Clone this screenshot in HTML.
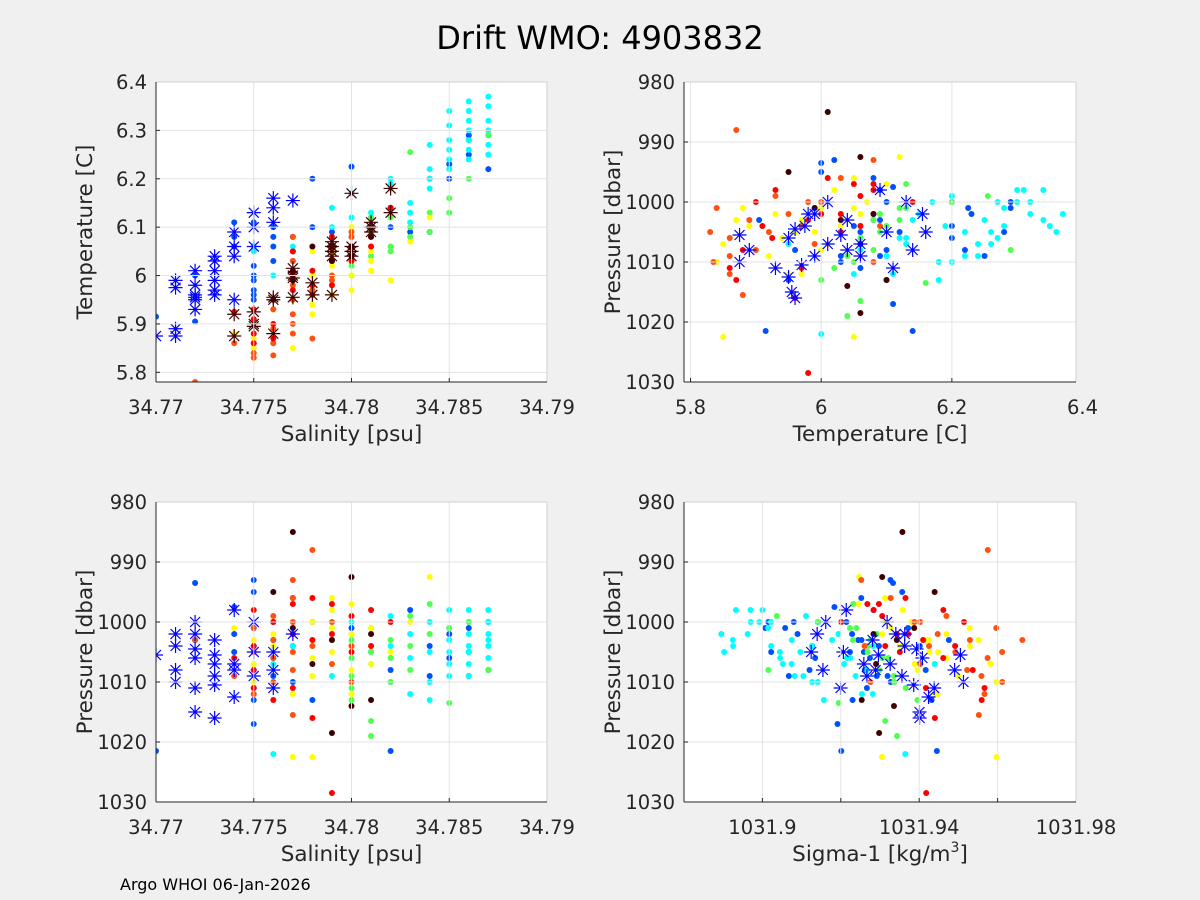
<!DOCTYPE html>
<html><head><meta charset="utf-8"><style>
body{margin:0;background:#f0f0f0;}
svg{display:block;font-family:"DejaVu Sans","Liberation Sans",sans-serif;}
</style></head><body>
<svg id="fig" width="1200" height="900" viewBox="0 0 1200 900">
<rect width="1200" height="900" fill="#f0f0f0"/>
<text x="600" y="49" font-size="32" text-anchor="middle" fill="#000">Drift WMO: 4903832</text>
<text x="120" y="890" font-size="16" fill="#000">Argo WHOI 06-Jan-2026</text>
</svg>
<script>
// Data: salinity offset (thousandths above 34.770), temperature [C], pressure [dbar]
const blueStarSal=[0,1,1,1,1,2,2,2,2,2,2,3,3,3,3,3,3,4,4,4,4,5,5,5,6,6,6,7];
const blueStarTemp=[5.875,5.99,5.975,5.89,5.875,6.01,5.98,5.96,5.95,5.93,5.955,6.04,6.03,6.01,5.99,5.97,5.96,6.09,6.06,6.04,5.95,6.13,6.10,6.06,6.16,6.14,6.11,6.155];
const blueStarPres=[1005.5,1002,1004,1008,1010,1000,1002,1004.5,1006,1011,1015,1003,1005.5,1007,1009,1010.5,1016,998,1007,1008,1012.5,1000,1005,1009,1005,1008,1011,1002];
const darkStarSal=[4,4,5,5,5,6,6,6,7,7,7,7,8,8,9,9,9,9,9,10,10,10,10,11,11,11,12,12];
const darkStarTemp=[5.92,5.875,5.925,5.90,5.895,5.955,5.95,5.88,6.015,6.0,5.995,5.955,5.985,5.96,6.07,6.06,6.05,6.04,5.96,6.17,6.06,6.05,6.04,6.11,6.10,6.09,6.18,6.13];
const groupColors=["#0050ff","#00ffff","#50ff50","#ffff00","#ff5010","#ff0000","#400000"];
const salBlue=[0,2,2,4,4,4,5,5,5,5,5,5,5,5,6,6,6,6,7,7,7,8,8,9,10,11,12,12,13,14,14,15,15,16,16,16,17,17];
const tempBlue=[5.915,6.0,5.905,6.11,6.08,6.06,6.02,6.0,5.99,5.97,5.96,5.95,6.11,6.06,6.10,6.08,6.06,6.03,6.08,6.05,6.03,6.20,6.10,6.09,6.225,6.12,6.14,6.10,6.09,6.20,6.09,6.23,6.20,6.29,6.28,6.25,6.29,6.22];
const presBlue=[1021.5,993.5,1003,997.5,1002,1005,993,995,1001,1004,1008,1013,1017,1011,1000,1003,1006,1009,996,1004,1010,1000,1013,1003,1001,1005,1021.5,1008,998,1004,1009,1002,1006,1001,1005,1009,1000,1008];
const salCyan=[5,5,6,6,7,9,9,10,10,11,12,12,12,13,13,13,14,14,14,14,15,15,15,15,15,15,16,16,16,16,16,16,16,17,17,17,17,17,17];
const tempCyan=[6.06,6.05,6.00,5.95,6.06,6.14,6.10,6.17,6.12,6.13,6.20,6.19,6.18,6.15,6.13,6.11,6.27,6.22,6.2,6.18,6.34,6.31,6.28,6.26,6.24,6.22,6.36,6.34,6.32,6.30,6.28,6.26,6.24,6.37,6.35,6.32,6.30,6.27,6.25];
const presCyan=[1008,1012,1022,1007,1004,1003,1009,1000,1006,1007,999,1004,1010,1002,1006,1012,1000,1005,1010,1013,1003,998,1001,1005,1007,1009,1005,998,1002,1000,1004,1007,1009,1002,1004,1000,998,1006,1003];
const salGreen=[10,10,10,10,10,11,11,11,11,12,12,12,13,13,13,14,14,15,15,16,17];
const tempGreen=[6.08,6.06,6.04,6.02,6.00,6.12,6.09,6.06,6.04,6.12,6.06,6.05,6.255,6.10,6.08,6.13,6.09,6.16,6.13,6.20,6.29];
const presGreen=[1003,1006,1009,1011,1013,1001,1005,1016.5,1019,1003,1006,1010,999,1004,1008,997,1002,1013.5,1001,1000,1008];
const salYellow=[4,5,5,5,6,6,7,7,8,8,8,8,8,9,9,9,9,9,10,10,10,10,10,11,11,11,12,13,14];
const tempYellow=[5.88,5.87,5.85,5.84,5.93,5.89,5.85,5.95,6.05,6.0,5.97,5.94,5.92,6.05,6.02,6.0,5.98,5.96,6.1,6.06,6.03,6.0,5.97,6.05,6.03,6.01,5.99,6.07,6.12];
const presYellow=[1001,1003,1007,1010,1002,1004,1022.5,1012,1022.5,1000,1003,1006,1009,996,998,1001,1003,1005,997,1002,1004,1008,1012,1001,1004,1007,1005,1000,992.5];
const salOrange=[2,4,5,5,5,6,6,6,6,7,7,7,7,7,7,7,8,8,9,9,10,10];
const tempOrange=[5.78,5.86,5.86,5.84,5.83,5.93,5.89,5.86,5.835,6.08,6.03,5.98,5.95,5.92,5.90,5.88,5.87,5.97,6.0,5.99,6.09,6.08];
const presOrange=[1003,1009,1012,1001,1005,999,1003,1006,1010,993,996,1000,1002,1005,1008,1015.5,988,1004,1000,1007,1004,1010];
const salRed=[4,5,5,5,5,6,6,7,7,7,8,8,8,9,9,9,10,10,11,11,12];
const tempRed=[5.925,5.93,5.91,5.88,5.86,5.9,5.87,6.05,6.0,5.97,6.01,5.98,5.96,6.08,6.03,5.98,6.06,6.03,6.08,6.06,6.14];
const presRed=[1006,998,1004,1008,1011,1000,1013,997,1002,1011,996,1003,1016,997,1002,1028.5,999,1005,998,1004,1000];
const salDark=[6,7,7,8,9,9,10,10,11,11];
const tempDark=[5.95,6.01,5.99,6.06,6.06,6.03,6.06,6.04,6.1,6.08];
const presDark=[995,985,1001,1007,1018.5,1003,992.5,1014,1013,1002];
const salTicks=[34.77,34.775,34.78,34.785,34.79];
const salTickLabels=["34.77","34.775","34.78","34.785","34.79"];
const tempTicks=[5.8,5.9,6,6.1,6.2,6.3,6.4];
const tempTickLabels=["5.8","5.9","6","6.1","6.2","6.3","6.4"];
const tempXTicks=[5.8,6,6.2,6.4];
const tempXTickLabels=["5.8","6","6.2","6.4"];
const presTicks=[980,990,1000,1010,1020,1030];
const presTickLabels=["980","990","1000","1010","1020","1030"];
const sigGrid=[1031.88,1031.9,1031.92,1031.94,1031.96,1031.98];
const sigTicks=[1031.9,1031.94,1031.98];
const sigTickLabels=["1031.9","1031.94","1031.98"];

const NS="http://www.w3.org/2000/svg";
const svg=document.getElementById("fig");
function mk(tag,attrs,parent){const e=document.createElementNS(NS,tag);for(const k in attrs)e.setAttribute(k,attrs[k]);(parent||svg).appendChild(e);return e;}
function sigma1(s,t){return 1031.938+0.78*(s-34.778)-0.15*(t-6.0);}

const groups=[
 [salBlue,tempBlue,presBlue],[salCyan,tempCyan,presCyan],[salGreen,tempGreen,presGreen],
 [salYellow,tempYellow,presYellow],[salOrange,tempOrange,presOrange],[salRed,tempRed,presRed],[salDark,tempDark,presDark]];

function panel(name,x0,y0,w,h,xmin,xmax,ymin,ymax,yrev){
  const g=mk("g",{});
  
  
  mk("rect",{x:x0,y:y0,width:w,height:h,fill:"#fff"},g);
  const sx=v=>x0+(v-xmin)/(xmax-xmin)*w;
  const sy=yrev?(v=>y0+(v-ymin)/(ymax-ymin)*h):(v=>y0+h-(v-ymin)/(ymax-ymin)*h);
  const clipId="clip-"+name;
  const cp=mk("clipPath",{id:clipId},g);mk("rect",{x:x0,y:y0,width:w,height:h},cp);
  const marks=mk("g",{"clip-path":"url(#"+clipId+")"},g);
  return {g,sx,sy,x0,y0,w,h,marks};
}
function gridX(p,vals){vals.forEach(v=>{const x=p.sx(v);if(x<p.x0-0.5||x>p.x0+p.w+0.5)return;
  mk("line",{x1:x,x2:x,y1:p.y0,y2:p.y0+p.h,stroke:"#e3e3e3","stroke-width":1},p.g);
  mk("line",{x1:x,x2:x,y1:p.y0+p.h,y2:p.y0+p.h-4,stroke:"#262626","stroke-width":1},p.g);});}
function gridY(p,vals){vals.forEach(v=>{const y=p.sy(v);if(y<p.y0-0.5||y>p.y0+p.h+0.5)return;
  mk("line",{x1:p.x0,x2:p.x0+p.w,y1:y,y2:y,stroke:"#e3e3e3","stroke-width":1},p.g);
  mk("line",{x1:p.x0,x2:p.x0+4,y1:y,y2:y,stroke:"#262626","stroke-width":1},p.g);});}
function labelsX(p,vals,labs){vals.forEach((v,i)=>{const t=mk("text",{x:p.sx(v),y:p.y0+p.h+32,"font-size":19.5,"text-anchor":"middle",fill:"#262626"},p.g);t.textContent=labs[i];
  
  });}
function labelsY(p,vals,labs){vals.forEach((v,i)=>{const t=mk("text",{x:p.x0-9,y:p.sy(v)+7,"font-size":19.5,"text-anchor":"end",fill:"#262626"},p.g);t.textContent=labs[i];
  
  });}
function frame(p){
  mk("line",{x1:p.x0,x2:p.x0+p.w,y1:p.y0,y2:p.y0,stroke:"#cfcfcf"},p.g);
  mk("line",{x1:p.x0+p.w,x2:p.x0+p.w,y1:p.y0,y2:p.y0+p.h,stroke:"#cfcfcf"},p.g);
  mk("line",{x1:p.x0,x2:p.x0+p.w,y1:p.y0+p.h,y2:p.y0+p.h,stroke:"#262626"},p.g);
  mk("line",{x1:p.x0,x2:p.x0,y1:p.y0,y2:p.y0+p.h,stroke:"#262626"},p.g);}
function axisTitles(p,xt,yt,xsup){
  const t=mk("text",{x:p.x0+p.w/2,y:p.y0+p.h+59,"font-size":21.5,"text-anchor":"middle",fill:"#262626"},p.g);
  
  
  if(xsup){t.appendChild(document.createTextNode(xt));const s=mk("tspan",{"font-size":14,dy:-9},t);s.textContent="3";const e=mk("tspan",{dy:9},t);e.textContent="]";}
  else t.textContent=xt;
  const cx=p.x0-64,cy=p.y0+p.h/2;
  const u=mk("text",{x:cx,y:cy,"font-size":21.5,"text-anchor":"middle",fill:"#262626",transform:`rotate(-90 ${cx} ${cy})`},p.g);
  u.textContent=yt;
  
  
}
function dot(p,x,y,c){const e=mk("circle",{cx:x,cy:y,r:3,fill:c},p.marks);
  
  }
function star(p,x,y,c){const r=7,d=5;const e=mk("path",{d:`M${x-r} ${y}H${x+r}M${x} ${y-r}V${y+r}M${x-d} ${y-d}L${x+d} ${y+d}M${x-d} ${y+d}L${x+d} ${y-d}`,stroke:c,"stroke-width":1.2,fill:"none"},p.marks);
  
  }
const S=o=>34.77+o*0.001;

const p1=panel("ts-panel",156,82,391,300,34.77,34.79,5.78,6.4,false);
gridX(p1,salTicks);gridY(p1,tempTicks);
groups.forEach((gr,gi)=>gr[0].forEach((s,i)=>dot(p1,p1.sx(S(s)),p1.sy(gr[1][i]),groupColors[gi])));
blueStarSal.forEach((s,i)=>star(p1,p1.sx(S(s)),p1.sy(blueStarTemp[i]),"#0000ff"));
darkStarSal.forEach((s,i)=>star(p1,p1.sx(S(s)),p1.sy(darkStarTemp[i]),"#400000"));
frame(p1);labelsX(p1,salTicks,salTickLabels);labelsY(p1,tempTicks,tempTickLabels);
axisTitles(p1,"Salinity [psu]","Temperature [C]");

const p2=panel("temp-pressure-panel",684,82,392,300,5.79,6.39,980,1030,true);
gridX(p2,tempXTicks);gridY(p2,presTicks);
groups.forEach((gr,gi)=>gr[1].forEach((t,i)=>dot(p2,p2.sx(t),p2.sy(gr[2][i]),groupColors[gi])));
blueStarTemp.forEach((t,i)=>star(p2,p2.sx(t),p2.sy(blueStarPres[i]),"#0000ff"));
frame(p2);labelsX(p2,tempXTicks,tempXTickLabels);labelsY(p2,presTicks,presTickLabels);
axisTitles(p2,"Temperature [C]","Pressure [dbar]");

const p3=panel("sal-pressure-panel",156,502,391,300,34.77,34.79,980,1030,true);
gridX(p3,salTicks);gridY(p3,presTicks);
groups.forEach((gr,gi)=>gr[0].forEach((s,i)=>dot(p3,p3.sx(S(s)),p3.sy(gr[2][i]),groupColors[gi])));
blueStarSal.forEach((s,i)=>star(p3,p3.sx(S(s)),p3.sy(blueStarPres[i]),"#0000ff"));
frame(p3);labelsX(p3,salTicks,salTickLabels);labelsY(p3,presTicks,presTickLabels);
axisTitles(p3,"Salinity [psu]","Pressure [dbar]");

const p4=panel("sigma-pressure-panel",684,502,392,300,1031.88,1031.98,980,1030,true);
gridX(p4,sigGrid);gridY(p4,presTicks);
groups.forEach((gr,gi)=>gr[0].forEach((s,i)=>dot(p4,p4.sx(sigma1(S(s),gr[1][i])),p4.sy(gr[2][i]),groupColors[gi])));
blueStarSal.forEach((s,i)=>star(p4,p4.sx(sigma1(S(s),blueStarTemp[i])),p4.sy(blueStarPres[i]),"#0000ff"));
frame(p4);labelsX(p4,sigTicks,sigTickLabels);labelsY(p4,presTicks,presTickLabels);
axisTitles(p4,"Sigma-1 [kg/m","Pressure [dbar]",true);
</script>
</body></html>
